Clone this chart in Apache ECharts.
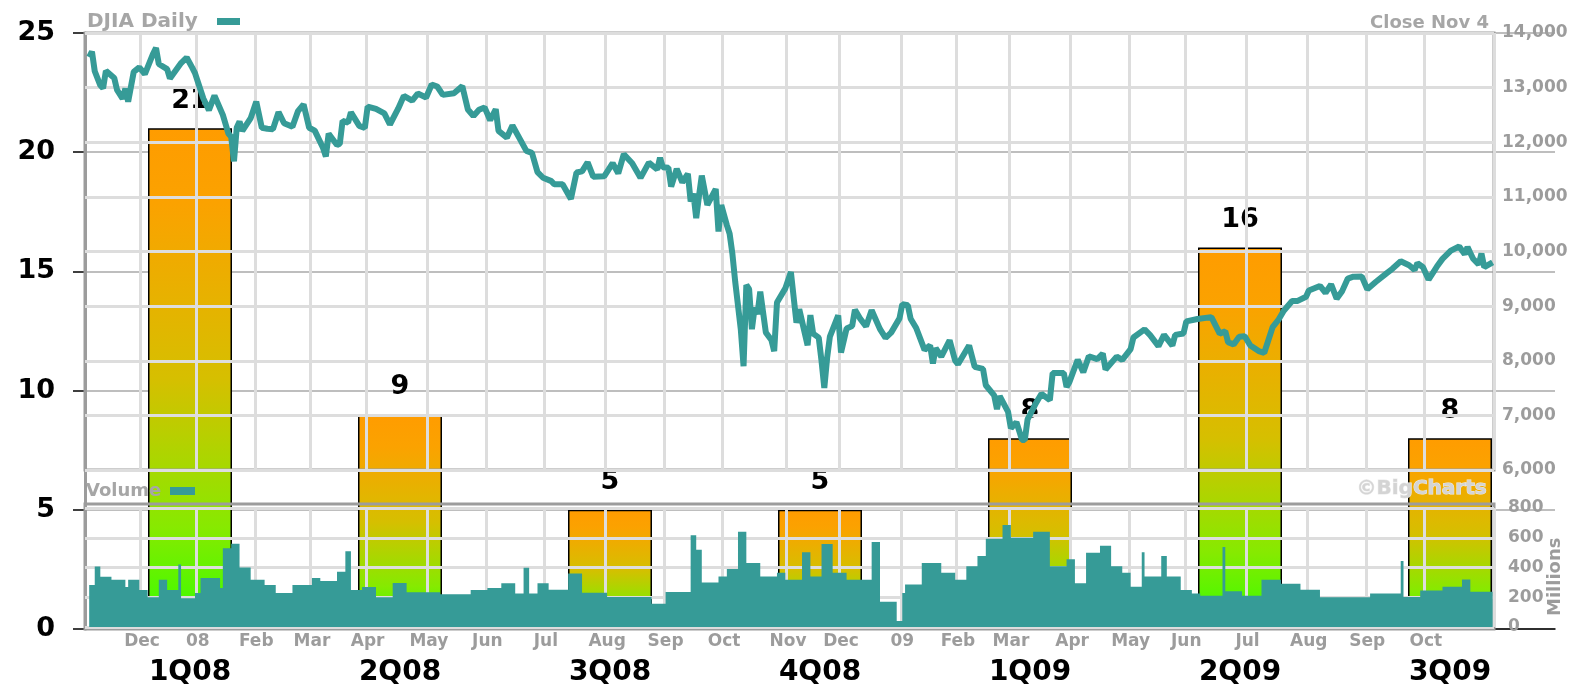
<!DOCTYPE html>
<html><head><meta charset="utf-8">
<script src="https://cdn.jsdelivr.net/npm/echarts@6/dist/echarts.min.js"></script>
<style>html,body{margin:0;padding:0;background:#fff}#c{width:1579px;height:688px}</style>
</head><body><div id="c"></div>
<script>
// ---- bar chart data ----
const quarters = ['1Q08','2Q08','3Q08','4Q08','1Q09','2Q09','3Q09'];
const quarterValues = [21, 9, 5, 5, 8, 16, 8];

// ---- background DJIA chart: trading-day axis (day 0 = Nov 5 2007, day 504 = Nov 4 2009) ----
const monthNames = ['Dec','08','Feb','Mar','Apr','May','Jun','Jul','Aug','Sep','Oct','Nov','Dec','09','Feb','Mar','Apr','May','Jun','Jul','Aug','Sep','Oct'];
const monthStartDay = [19,39,60,80,100,122,143,164,186,207,228,251,270,292,312,331,353,374,394,416,438,459,480];
const lastDay = 504;

const djiaDay = [0,1,2,4,5,6,9,10,12,13,14,16,18,20,23,24,25,28,29,33,35,37,38,41,43,45,48,50,51,52,53,54,55,58,60,62,64,66,68,70,73,75,77,79,81,84,85,86,89,90,91,93,94,97,99,100,103,106,108,111,113,116,118,121,123,125,127,131,134,136,138,140,142,144,146,147,150,152,155,157,159,161,163,166,167,170,173,175,177,179,181,185,188,190,192,195,198,201,204,205,206,208,209,211,213,215,216,217,218,219,220,222,225,226,227,229,230,231,232,234,235,236,237,238,239,240,241,243,245,246,247,250,252,254,255,258,259,260,262,263,264,265,266,269,270,272,274,275,277,279,281,284,286,288,291,292,294,295,297,300,302,303,304,306,309,311,312,316,318,321,322,325,326,327,330,331,333,335,336,337,340,342,345,346,350,351,352,355,357,359,362,364,365,369,371,374,375,379,381,384,386,389,390,393,394,398,403,406,408,409,411,413,415,417,420,422,425,427,429,432,434,437,438,442,444,446,448,450,452,454,457,459,462,466,468,471,474,476,477,479,481,484,486,489,492,494,495,496,497,499,500,501,504];
const djiaClose = [13560,13660,13300,13042,12987,13307,13176,12958,12799,12981,12743,13289,13372,13249,13625,13727,13432,13339,13167,13450,13551,13366,13265,12800,12589,12853,12501,12159,12099,11650,12270,12378,12207,12442,12743,12265,12248,12240,12552,12348,12284,12570,12694,12266,12213,11894,11740,12156,11951,11972,12392,12361,12548,12300,12262,12654,12610,12527,12325,12619,12849,12763,12891,12820,13058,13020,12867,12898,13028,12600,12480,12594,12638,12404,12604,12209,12084,12307,12030,11842,11807,11453,11350,11288,11231,11229,10962,11446,11467,11632,11370,11378,11616,11431,11782,11615,11348,11628,11502,11715,11543,11532,11188,11511,11268,11421,10917,11059,10609,11019,11388,10854,11143,10365,10851,10482,10325,9955,9447,8579,7900,9387,9310,8577,8979,8852,9265,8519,8378,8175,9065,9325,9625,8695,8943,8283,8835,8497,8424,7997,7500,8046,8443,8829,8149,8591,8635,8934,8761,8629,8924,8579,8419,8515,8776,9035,9015,8769,8599,8200,8281,7949,8228,8077,8375,8001,7936,8280,7888,7850,7552,7366,7115,7351,7063,6763,6876,6550,6547,6926,7224,7395,7279,7776,7776,7522,7609,8018,7789,8083,8029,8131,7841,8076,8016,8212,8426,8575,8469,8268,8474,8277,8473,8500,8721,8764,8799,8497,8539,8339,8299,8438,8447,8280,8178,8146,8616,8743,8916,9093,9096,9171,9286,9370,9241,9398,9136,9279,9505,9539,9544,9310,9441,9605,9683,9820,9748,9665,9789,9712,9487,9725,9865,10015,10092,9949,10081,9972,9868,9762,9962,9713,9802];

const volDay = [0,2,4,8,13,14,18,21,25,28,32,33,38,40,47,48,51,54,58,63,67,73,80,83,89,92,94,98,103,109,114,126,137,143,148,153,156,158,161,165,172,177,186,202,207,216,218,220,226,229,233,236,241,247,250,256,259,263,267,272,281,284,290,292,293,299,306,311,315,319,322,328,331,339,345,351,354,358,363,367,371,374,378,379,385,387,392,396,399,407,408,414,421,428,435,442,460,471,472,478,486,493,496,504];
const volMillions = [283,407,338,317,269,317,248,200,317,248,420,193,228,330,262,530,560,400,317,283,228,283,330,310,372,510,248,269,200,296,234,220,248,262,294,225,398,225,294,250,360,230,202,156,235,616,520,300,340,390,640,430,340,365,317,503,340,558,365,317,572,170,41,228,285,430,365,317,409,478,593,685,600,640,409,455,294,500,547,409,365,271,503,340,478,340,248,225,210,538,240,210,317,290,250,200,225,443,202,245,270,320,237,237];

// ---- build library tables ----
const nCat = lastDay + 2;               // categories hold days -1 .. lastDay
const dayCats = [];
for (let c = 0; c < nCat; c++) dayCats.push('');
monthStartDay.forEach((d, k) => { dayCats[d + 1] = monthNames[k]; });
const priceSeries = new Array(nCat).fill(null);
djiaDay.forEach((d, i) => { priceSeries[d + 1] = djiaClose[i]; });
const volSeries = new Array(nCat).fill(null);
volDay.forEach((d, i) => { volSeries[d + 1] = volMillions[i]; });

const TEAL = '#369b97';
const GREY = '#9c9c9c';
const LIGHT = '#dddddd';
const isMonth = (i, v) => v !== '';

const chart = echarts.init(document.getElementById('c'), null, {renderer: 'canvas'});
chart.setOption({
  animation: false,
  backgroundColor: '#ffffff',
  grid: [
    {left: 85, right: 24, top: 33, bottom: 59, z: 0},
    {left: 85, right: 85, top: 33, bottom: 218, show: true, borderColor: GREY, borderWidth: 3, backgroundColor: 'transparent', z: 2},
    {left: 85, right: 85, top: 504, bottom: 59, show: true, borderColor: GREY, borderWidth: 3, backgroundColor: 'transparent', z: 2},
    {left: 85, right: 85, top: 508, bottom: 61, z: 2}
  ],
  xAxis: [
    {type: 'category', gridIndex: 0, data: quarters, z: 0,
     axisLine: {lineStyle: {color: '#000', width: 1.5}},
     axisTick: {length: 9, lineStyle: {color: '#000', width: 1.5}},
     axisLabel: {margin: 30, color: '#000', fontFamily: 'DejaVu Sans', fontWeight: 'bold', fontSize: 28}},
    {type: 'category', gridIndex: 1, data: dayCats, boundaryGap: true, z: 2,
     axisLine: {show: false}, axisTick: {show: false}, axisLabel: {show: false},
     splitLine: {show: true, interval: isMonth, lineStyle: {color: LIGHT, width: 3}}},
    {type: 'category', gridIndex: 3, data: dayCats, boundaryGap: true, z: 2,
     axisLine: {show: false}, axisTick: {show: false},
     axisLabel: {show: true, interval: isMonth, margin: 6, color: GREY, fontFamily: 'DejaVu Sans', fontWeight: 'bold', fontSize: 17},
     splitLine: {show: true, interval: isMonth, lineStyle: {color: LIGHT, width: 3}}},
    {type: 'category', gridIndex: 2, data: dayCats, show: false}
  ],
  yAxis: [
    {type: 'value', gridIndex: 0, min: 0, max: 25, interval: 5, position: 'left', z: 0,
     axisLine: {show: true, lineStyle: {color: GREY, width: 3}},
     axisTick: {show: true, length: 12, lineStyle: {color: '#000', width: 1.5}},
     axisLabel: {margin: 30, color: '#000', fontFamily: 'DejaVu Sans', fontWeight: 'bold', fontSize: 27},
     splitLine: {show: true, lineStyle: {color: '#a8a8a8', width: 1.5}}},
    {type: 'value', gridIndex: 1, min: 6000, max: 14000, interval: 1000, position: 'right', z: 2,
     axisLine: {show: false}, axisTick: {show: false},
     axisLabel: {margin: 8, color: GREY, fontFamily: 'DejaVu Sans', fontWeight: 'bold', fontSize: 17,
                 formatter: v => v.toLocaleString('en-US')},
     splitLine: {show: true, lineStyle: {color: LIGHT, width: 3}}},
    {type: 'value', gridIndex: 3, min: 0, max: 800, interval: 200, position: 'right', z: 2,
     axisLine: {show: false}, axisTick: {show: false},
     axisLabel: {margin: 14, color: GREY, fontFamily: 'DejaVu Sans', fontWeight: 'bold', fontSize: 17},
     splitLine: {show: true, lineStyle: {color: LIGHT, width: 3}}},
    {type: 'value', gridIndex: 2, show: false}
  ],
  series: [
    {type: 'bar', xAxisIndex: 0, yAxisIndex: 0, data: quarterValues, barWidth: '40%', z: 1,
     itemStyle: {
       borderColor: '#000', borderWidth: 1.5,
       color: new echarts.graphic.LinearGradient(0, 0, 0, 1, [
         {offset: 0, color: '#ff9c00'}, {offset: 0.15, color: '#fba200'},
         {offset: 0.5, color: '#d6bf00'}, {offset: 0.8, color: '#86ea00'}, {offset: 1, color: '#33ff00'}])
     },
     label: {show: true, position: 'top', distance: 14, color: '#000', fontFamily: 'DejaVu Sans', fontWeight: 'bold', fontSize: 27}},
    {type: 'line', name: 'DJIA', xAxisIndex: 1, yAxisIndex: 1, data: priceSeries, connectNulls: true,
     symbol: 'none', z: 4, lineStyle: {color: TEAL, width: 6, join: 'bevel'}},
    {type: 'line', name: 'Volume', xAxisIndex: 2, yAxisIndex: 2, data: volSeries, connectNulls: true,
     step: 'end', symbol: 'none', z: 4, lineStyle: {width: 0}, areaStyle: {color: TEAL, opacity: 1}}
  ],
  graphic: [
    {type: 'text', left: 87, top: 12, z: 10, style: {text: 'DJIA Daily', fill: '#a6a6a6', font: 'bold 20px "DejaVu Sans"'}},
    {type: 'rect', left: 217, top: 18, z: 10, shape: {width: 23, height: 7}, style: {fill: TEAL}},
    {type: 'text', right: 90, top: 14, z: 10, style: {text: 'Close Nov 4', fill: '#a6a6a6', font: 'bold 18px "DejaVu Sans"'}},
    {type: 'text', left: 86, top: 482, z: 10, style: {text: 'Volume', fill: '#a6a6a6', font: 'bold 18px "DejaVu Sans"'}},
    {type: 'rect', left: 170, top: 487, z: 10, shape: {width: 25, height: 8}, style: {fill: TEAL}},
    {type: 'text', left: 1356, top: 478, z: 10, style: {text: '\u00a9BigCharts', fill: '#d4d4d4', font: 'bold 20px "DejaVu Sans"', stroke: '#ececec', lineWidth: 1}},
    {type: 'text', x: 1546, y: 616, rotation: Math.PI / 2, z: 10, style: {text: 'Millions', fill: GREY, font: 'bold 18px "DejaVu Sans"'}}
  ]
});
</script>
</body></html>
